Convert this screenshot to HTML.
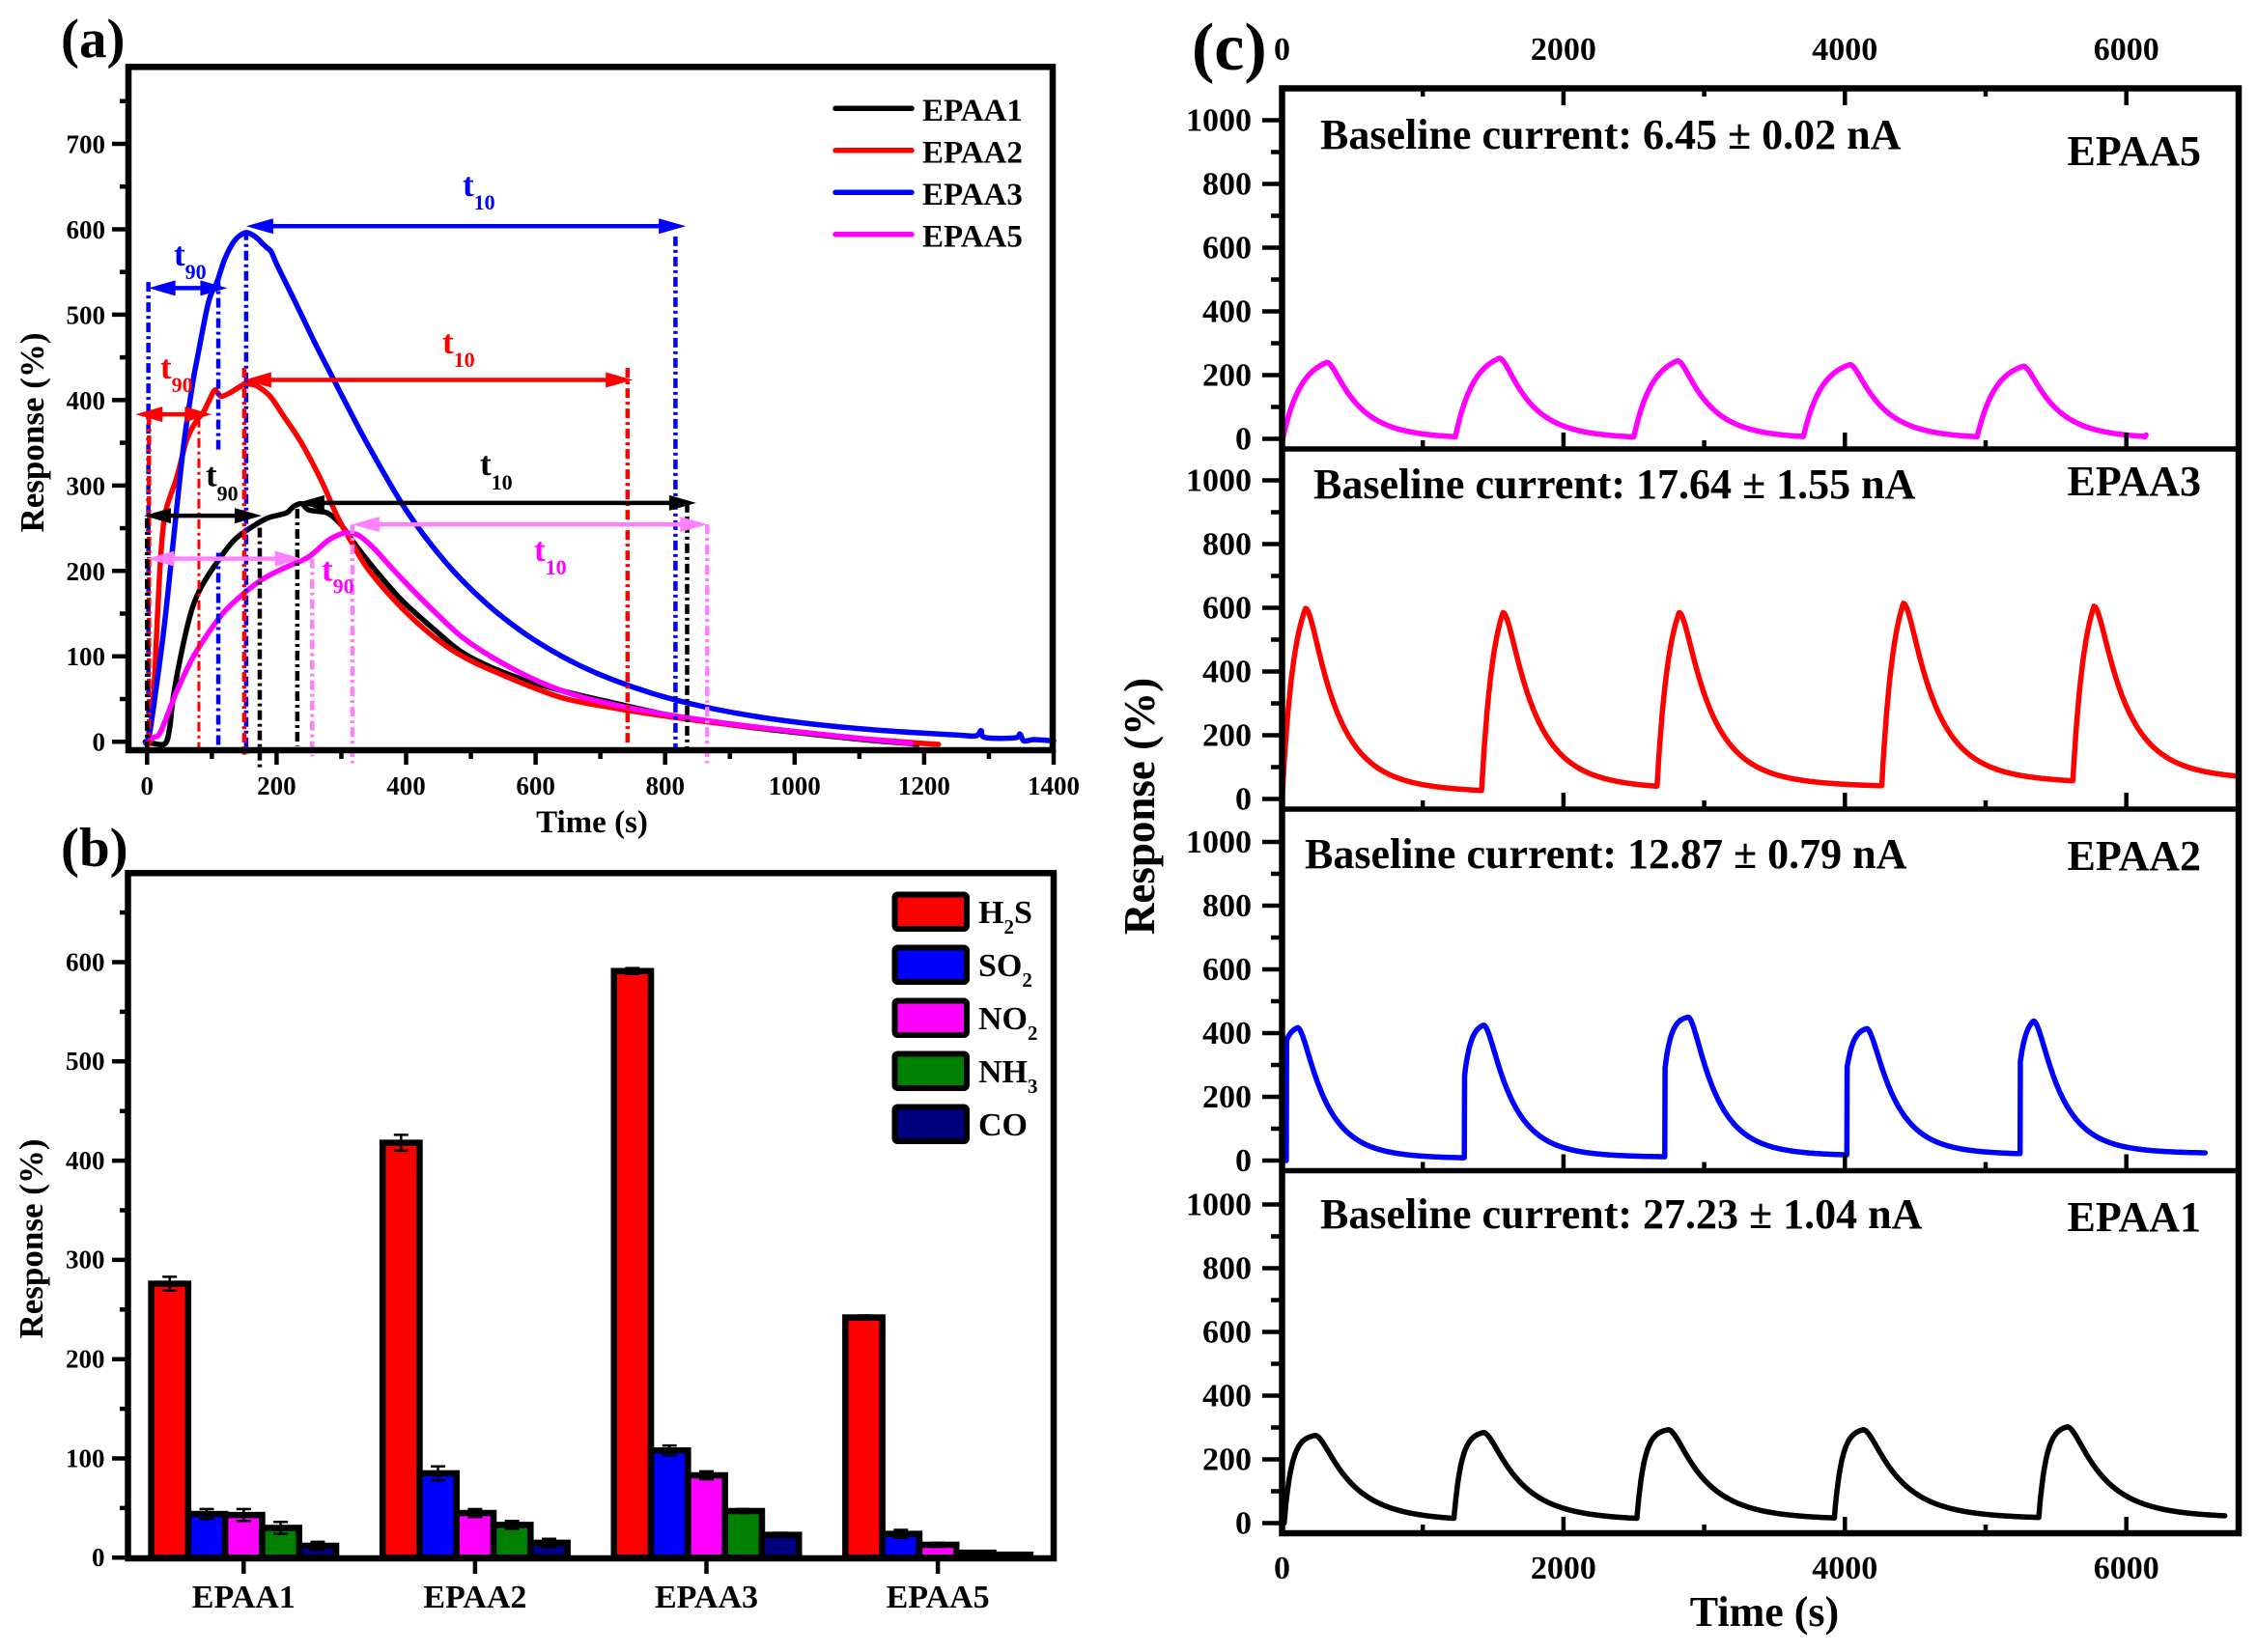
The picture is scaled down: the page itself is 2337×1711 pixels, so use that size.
<!DOCTYPE html>
<html><head><meta charset="utf-8">
<style>
html,body{margin:0;padding:0;background:#fff;}
svg{display:block;}
text{font-family:"Liberation Serif","Times New Roman",serif;font-weight:bold;fill:#000;}
</style></head>
<body>
<svg id="s" xmlns="http://www.w3.org/2000/svg" width="2337" height="1711" viewBox="0 0 2337 1711">
<rect width="2337" height="1711" fill="#fff"/>
<g id="gB"></g>
<g id="gCA" fill="none" stroke-linejoin="round" stroke-linecap="round"></g>
<g id="gAnn"></g>
<g id="gCC" fill="none" stroke-linejoin="round" stroke-linecap="round"></g>
<g id="gF" stroke="#000" fill="none"></g>

<!-- Panel a legend lines -->
<g stroke-width="5.5" stroke-linecap="round">
<line x1="865" y1="112.3" x2="944" y2="112.3" stroke="#000"/>
<line x1="865" y1="155.8" x2="944" y2="155.8" stroke="#ff0000"/>
<line x1="865" y1="199.3" x2="944" y2="199.3" stroke="#0000ff"/>
<line x1="865" y1="242.8" x2="944" y2="242.8" stroke="#ff00ff"/>
</g>
<!-- Panel b legend boxes -->
<g stroke="#000" stroke-width="6">
<rect x="926.5" y="926.5" width="74.5" height="35.5" rx="3" fill="#ff0000"/>
<rect x="926.5" y="981.5" width="74.5" height="35.5" rx="3" fill="#0000ff"/>
<rect x="926.5" y="1036.5" width="74.5" height="35.5" rx="3" fill="#ff00ff"/>
<rect x="926.5" y="1091.5" width="74.5" height="35.5" rx="3" fill="#008000"/>
<rect x="926.5" y="1146.5" width="74.5" height="35.5" rx="3" fill="#000080"/>
</g>

<!-- ===== Panel (a) text ===== -->
<text x="63" y="59" font-size="57">(a)</text>
<g font-size="33">
<text x="955" y="125">EPAA1</text>
<text x="955" y="168.5">EPAA2</text>
<text x="955" y="212">EPAA3</text>
<text x="955" y="255.5">EPAA5</text>
</g>
<g font-size="27" text-anchor="end">
<text x="109" y="777.7">0</text>
<text x="109" y="689.2">100</text>
<text x="109" y="600.8">200</text>
<text x="109" y="512.3">300</text>
<text x="109" y="423.9">400</text>
<text x="109" y="335.4">500</text>
<text x="109" y="247">600</text>
<text x="109" y="158.5">700</text>
</g>
<g font-size="27" text-anchor="middle">
<text x="152.3" y="823">0</text>
<text x="286.4" y="823">200</text>
<text x="420.5" y="823">400</text>
<text x="554.6" y="823">600</text>
<text x="688.7" y="823">800</text>
<text x="822.8" y="823">1000</text>
<text x="956.9" y="823">1200</text>
<text x="1091" y="823">1400</text>
</g>
<text x="613" y="862" font-size="33" text-anchor="middle">Time (s)</text>
<text transform="translate(45,448) rotate(-90)" font-size="35" text-anchor="middle">Response (%)</text>
<!-- t labels -->
<text x="479" y="203" font-size="35" style="fill:#0000ff">t<tspan font-size="22" dy="14">10</tspan></text>
<text x="458" y="366" font-size="35" style="fill:#ff0000">t<tspan font-size="22" dy="14">10</tspan></text>
<text x="497" y="492" font-size="35" style="fill:#000">t<tspan font-size="22" dy="15">10</tspan></text>
<text x="553" y="581" font-size="35" style="fill:#ff00ff">t<tspan font-size="22" dy="14">10</tspan></text>
<text x="180" y="275" font-size="35" style="fill:#0000ff">t<tspan font-size="22" dy="14">90</tspan></text>
<text x="166" y="392" font-size="35" style="fill:#ff0000">t<tspan font-size="22" dy="14">90</tspan></text>
<text x="213" y="503.5" font-size="35" style="fill:#000">t<tspan font-size="22" dy="15">90</tspan></text>
<text x="333" y="601.5" font-size="35" style="fill:#ff00ff">t<tspan font-size="22" dy="13">90</tspan></text>

<!-- ===== Panel (b) text ===== -->
<text x="63" y="897" font-size="57">(b)</text>
<g font-size="27" text-anchor="end">
<text x="108.5" y="1622">0</text>
<text x="108.5" y="1519.3">100</text>
<text x="108.5" y="1416.5">200</text>
<text x="108.5" y="1313.7">300</text>
<text x="108.5" y="1210.9">400</text>
<text x="108.5" y="1108.1">500</text>
<text x="108.5" y="1005.3">600</text>
</g>
<g font-size="34" text-anchor="middle">
<text x="252.3" y="1665">EPAA1</text>
<text x="491.9" y="1665">EPAA2</text>
<text x="731.5" y="1665">EPAA3</text>
<text x="971.1" y="1665">EPAA5</text>
</g>
<text transform="translate(44,1283) rotate(-90)" font-size="35" text-anchor="middle">Response (%)</text>
<g font-size="34">
<text x="1013" y="956">H<tspan font-size="21" dy="11">2</tspan><tspan dy="-11">S</tspan></text>
<text x="1013" y="1011">SO<tspan font-size="21" dy="11">2</tspan></text>
<text x="1013" y="1066">NO<tspan font-size="21" dy="11">2</tspan></text>
<text x="1013" y="1121">NH<tspan font-size="21" dy="11">3</tspan></text>
<text x="1013" y="1176">CO</text>
</g>

<!-- ===== Panel (c) text ===== -->
<text x="1234" y="72" font-size="70">(c)</text>
<g font-size="34" text-anchor="middle">
<text x="1327.5" y="62">0</text>
<text x="1618.9" y="62">2000</text>
<text x="1910.3" y="62">4000</text>
<text x="2201.7" y="62">6000</text>
<text x="1327.5" y="1635">0</text>
<text x="1618.9" y="1635">2000</text>
<text x="1910.3" y="1635">4000</text>
<text x="2201.7" y="1635">6000</text>
</g>
<g font-size="34" text-anchor="end">
<text x="1296" y="465.5">0</text><text x="1296" y="399.5">200</text><text x="1296" y="333.5">400</text><text x="1296" y="267.5">600</text><text x="1296" y="201.5">800</text><text x="1296" y="135.5">1000</text>
<text x="1296" y="838.5">0</text><text x="1296" y="772.5">200</text><text x="1296" y="706.5">400</text><text x="1296" y="640.5">600</text><text x="1296" y="574.5">800</text><text x="1296" y="508.5">1000</text>
<text x="1296" y="1213">0</text><text x="1296" y="1147">200</text><text x="1296" y="1081">400</text><text x="1296" y="1015">600</text><text x="1296" y="949">800</text><text x="1296" y="883">1000</text>
<text x="1296" y="1588.5">0</text><text x="1296" y="1522.5">200</text><text x="1296" y="1456.5">400</text><text x="1296" y="1390.5">600</text><text x="1296" y="1324.5">800</text><text x="1296" y="1258.5">1000</text>
</g>
<text x="1827" y="1684" font-size="44" text-anchor="middle">Time (s)</text>
<text transform="translate(1195,835) rotate(-90)" font-size="45" text-anchor="middle">Response (%)</text>
<g font-size="44">
<text x="1367" y="154">Baseline current: 6.45 ± 0.02 nA</text>
<text x="1360" y="516">Baseline current: 17.64 ± 1.55 nA</text>
<text x="1351" y="899">Baseline current: 12.87 ± 0.79 nA</text>
<text x="1367" y="1272">Baseline current: 27.23 ± 1.04 nA</text>
</g>
<g font-size="44" text-anchor="end">
<text x="2279" y="171">EPAA5</text>
<text x="2279" y="513">EPAA3</text>
<text x="2279" y="901">EPAA2</text>
<text x="2279" y="1275">EPAA1</text>
</g>
</svg>
<script>
(function(){
var NS='http://www.w3.org/2000/svg';
function E(tag,a,p){var e=document.createElementNS(NS,tag);for(var k in a)e.setAttribute(k,a[k]);p.appendChild(e);return e;}
var gB=document.getElementById('gB'),gCA=document.getElementById('gCA'),gAnn=document.getElementById('gAnn'),gCC=document.getElementById('gCC'),gF=document.getElementById('gF');
function L(p,x1,y1,x2,y2,c,w,extra){var a={x1:x1,y1:y1,x2:x2,y2:y2,stroke:c,'stroke-width':w};if(extra)for(var k in extra)a[k]=extra[k];return E('line',a,p);}

/* ---------- Panel (a) ---------- */
var XA=function(t){return 152.3+0.6705*t;}, YA=function(v){return 772.7-0.890*v;}, YN=function(v){return 768.2-0.8846*v;};
function cr(pts){
  var d='M'+pts[0][0].toFixed(1)+','+pts[0][1].toFixed(1);
  for(var i=0;i<pts.length-1;i++){
    var p0=pts[i-1]||pts[i],p1=pts[i],p2=pts[i+1],p3=pts[i+2]||p2;
    var c1x=p1[0]+(p2[0]-p0[0])/6,c1y=p1[1]+(p2[1]-p0[1])/6,c2x=p2[0]-(p3[0]-p1[0])/6,c2y=p2[1]-(p3[1]-p1[1])/6;
    d+='C'+c1x.toFixed(1)+','+c1y.toFixed(1)+' '+c2x.toFixed(1)+','+c2y.toFixed(1)+' '+p2[0].toFixed(1)+','+p2[1].toFixed(1);
  }
  return d;
}
function px(arr){return arr.map(function(p){return [XA(p[0]),YA(p[1])];});}
var black=[[-3,5],[0,5],[10,3],[28,3],[35,22],[41,60],[56,119],[70,161],[85,187],[110,216],[135,240],[160,254],[185,265],[214,271],[222,276],[229,280],[239,282],[249,275],[265,273],[279,271],[299,258],[319,237],[349,208],[393,170],[443,136],[493,106],[567,81],[642,64],[716,51],[800,37],[900,25],[1000,16],[1100,8],[1190,2]];
var red=[[0,5],[3,9],[10,60],[16,150],[21,220],[28,271],[46,313],[61,356],[75,377],[88,390],[103,413],[108,412],[115,407],[130,412],[150,421],[160,421],[170,419],[190,407],[210,385],[239,352],[269,309],[294,267],[319,233],[344,203],[393,161],[443,127],[493,102],[567,77],[642,56],[716,45],[800,35],[900,25],[1000,17],[1100,9],[1200,3],[1222,2]];
var blue=[[-2,3],[0,5],[5,20],[11,51],[26,136],[41,242],[56,347],[70,420],[78,453],[95,517],[108,540],[120,567],[135,588],[150,597],[160,596],[170,591],[178,585],[185,580],[192,575],[200,561],[230,515],[260,468],[294,418]];
(function(){var ts=[340,400,460,520,580,640,700,780,860,950,1050,1150,1250,1280];
 ts.forEach(function(t){var v=400*Math.exp(-(t-294)/230)+26*Math.exp(-(t-294)/700);blue.push([t,v]);});
 blue.push([1288,18],[1294,10],[1340,9.5],[1348,14],[1354,6],[1370,7.5],[1400,6]);})();
var mag=[[0,3],[3,5],[10,10],[21,17],[46,64],[70,102],[95,132],[120,157],[150,178],[180,195],[214,208],[249,220],[279,239],[300,247],[309,248],[320,247],[329,244],[349,231],[393,195],[443,157],[493,123],[567,89],[642,64],[716,49],[800,37],[900,26],[1000,17],[1100,9],[1180,3]];
[[black,'#000'],[red,'#ff0000'],[blue,'#0000ff'],[mag,'#ff00ff']].forEach(function(c){E('path',{d:cr(px(c[0])),stroke:c[1],'stroke-width':5.5},gCA);});

var dash='10 4 3 4';
function vl(t,v1,v2,c,w){L(gAnn,XA(t),YA(v1),XA(t),YA(v2),c,w||4.5,{'stroke-dasharray':dash});}
function head(x,y,dir,c){var Lh=28,W=8;E('polygon',{points:x+','+y+' '+(x-dir*Lh)+','+(y-W)+' '+(x-dir*Lh)+','+(y+W),fill:c},gAnn);}
function arr(t1,t2,v,c){var x1=XA(t1),x2=XA(t2),y=YA(v);L(gAnn,x1+10,y,x2-10,y,c,4.5);head(x1,y,-1,c);head(x2,y,1,c);}
var B='#0000ff',R='#ff0000',K='#000',P='#ff80ff';
vl(2,540,-3,B);arr(2,124,533,B);vl(110,545,345,B);vl(110,225,-5,B);vl(153,600,-12,B);arr(153,832,605,B);vl(816,593,-3,B);
vl(3,385,0,R);arr(-18,100,386,R);vl(80,382,-5,R,3);vl(150,440,-10,R);arr(150,750,426,R);vl(742,440,0,R);
vl(0,265,-12,K);arr(-5,177,268,K);vl(174,254,-25,K);vl(232,276,0,K);arr(232,848,283,K);vl(834,283,-5,K);
arr(0,239,218,P);vl(255,218,-12,P);vl(317,258,-20,P);arr(317,865,258,P);vl(865,258,-20,P);

/* frame a + ticks */
E('rect',{x:133,y:69.3,width:957,height:707.7,'stroke-width':6.5},gF);
var v,t;
for(v=0;v<=700;v+=100)L(gF,116,YN(v),133,YN(v),'#000',4.5);
for(v=50;v<=750;v+=100)L(gF,124,YN(v),133,YN(v),'#000',4.5);
for(t=0;t<=1400;t+=200)L(gF,XA(t),777,XA(t),792,'#000',4.5);
for(t=100;t<=1300;t+=200)L(gF,XA(t),777,XA(t),786,'#000',4.5);

/* ---------- Panel (b) ---------- */
var YB=function(v){return 1613.3-1.028*v;};
var vals=[[[276,7],[44,5],[43,6],[30,6],[12,4]],[[418,8],[85,7],[45,4],[33,4],[15,4]],[[591,3],[108,5],[83,4],[47,2],[23,2]],[[242,2],[24,4],[13,2],[5,1],[3,1]]];
var cols=['#ff0000','#0000ff','#ff00ff','#008000','#000080'];
var bw=38.3;
for(var g=0;g<4;g++){
  var C=132.5+239.6*(g+0.5);
  for(var j=0;j<5;j++){
    var x=C-2.5*bw+j*bw,val=vals[g][j][0],y=YB(val);
    E('rect',{x:x,y:y,width:bw,height:YB(0)-y,fill:cols[j],stroke:'#000','stroke-width':6.5},gB);
  }
  for(j=0;j<5;j++){
    var x2=C-2.5*bw+j*bw+bw/2,val2=vals[g][j][0],e2=vals[g][j][1];
    L(gB,x2,YB(val2+e2),x2,YB(val2-e2),'#000',2.5);
    L(gB,x2-7.5,YB(val2+e2),x2+7.5,YB(val2+e2),'#000',2.5);
    L(gB,x2-7.5,YB(val2-e2),x2+7.5,YB(val2-e2),'#000',2.5);
  }
  L(gF,C,1614,C,1630,'#000',4.5);
}
E('rect',{x:132.5,y:904.3,width:958.5,height:709.7,'stroke-width':6.5},gF);
for(v=0;v<=600;v+=100)L(gF,116,YB(v),132.5,YB(v),'#000',4.5);
for(v=50;v<=650;v+=100)L(gF,124,YB(v),132.5,YB(v),'#000',4.5);

/* ---------- Panel (c) ---------- */
var XC=function(t){return 1327.5+0.1457*t;};
var Bk=[465,838,1212.5,1588],Zk=[454.5,827.5,1202,1577.5];
function series(cfg){
  var pts=[],vv=0;
  cfg.p.forEach(function(p,i){
    var t0=p[0],tp=p[1],Pk=p[2],jf=p[3]||0;
    var next=(i+1<cfg.p.length)?cfg.p[i+1][0]:cfg.end;
    var vs=(i==0)?0:vv;
    var T=tp-t0,nr=1-Math.exp(-T/cfg.tr);
    for(var tt=t0;tt<tp;tt+=2){var dt=tt-t0;var r=(dt==0)?0:(jf+(1-jf)*(1-Math.exp(-dt/cfg.tr))/nr);vv=vs+(Pk-vs)*r;pts.push([tt,vv]);}
    for(tt=tp;tt<=next;tt+=4){var d=tt-tp;var dd=d-cfg.s*(1-Math.exp(-d/cfg.s));var gg=cfg.a*Math.exp(-dd/cfg.t1)+(1-cfg.a)*Math.exp(-dd/cfg.t2);var b=cfg.base*tt;vv=b+(Pk-b)*gg;pts.push([tt,vv]);}
  });
  return pts;
}
function pathC(pts,k){return 'M'+pts.map(function(p){return XC(p[0]).toFixed(1)+','+(Zk[k]-0.33*p[1]).toFixed(1);}).join('L');}
var pink=series({p:[[5,318,240],[1232,1544,253],[2500,2810,245],[3705,4035,233],[4940,5268,228]],end:6120,tr:130,s:40,a:0.85,t1:200,t2:400,base:0});
pink.push([6132,6],[6140,12]);
var redC=series({p:[[0,167,598],[1418,1570,585],[2665,2822,585],[4262,4416,614],[5620,5770,605]],end:6800,tr:85,s:40,a:0.85,t1:200,t2:700,base:0.007});
var blueC=series({p:[[30,110,417,0.9],[1295,1432,425,0.6],[2720,2885,450,0.62],[4014,4155,414,0.68],[5245,5340,438,0.68]],end:6560,tr:45,s:40,a:0.9,t1:180,t2:500,base:0.003});
var blackC=series({p:[[15,235,275],[1222,1431,284],[2522,2745,293],[3925,4130,293],[5378,5580,302]],end:6703,tr:52,s:50,a:0.85,t1:230,t2:600,base:0.002});
E('path',{d:pathC(pink,0),stroke:'#ff00ff','stroke-width':5.5},gCC);
E('path',{d:pathC(redC,1),stroke:'#ff0000','stroke-width':5.5},gCC);
E('path',{d:pathC(blueC,2),stroke:'#0000ff','stroke-width':5.5},gCC);
E('path',{d:pathC(blackC,3),stroke:'#000','stroke-width':5.5},gCC);

E('rect',{x:1327.5,y:91.5,width:990.5,height:1496.5,'stroke-width':6.5},gF);
for(var k=0;k<3;k++)L(gF,1327.5,Bk[k],2318,Bk[k],'#000',5.5);
for(k=0;k<4;k++){
  for(v=0;v<=1000;v+=200)L(gF,1307,Zk[k]-0.33*v,1327.5,Zk[k]-0.33*v,'#000',4.5);
  for(v=100;v<=900;v+=200)L(gF,1316,Zk[k]-0.33*v,1327.5,Zk[k]-0.33*v,'#000',4.5);
  for(t=2000;t<=6000;t+=2000)L(gF,XC(t),Bk[k]-17,XC(t),Bk[k],'#000',4.5);
  for(t=1000;t<=5000;t+=2000)L(gF,XC(t),Bk[k]-9,XC(t),Bk[k],'#000',4.5);
}
for(t=2000;t<=6000;t+=2000)L(gF,XC(t),91.5,XC(t),109,'#000',4.5);
for(t=1000;t<=5000;t+=2000)L(gF,XC(t),91.5,XC(t),100,'#000',4.5);
})();
</script>
</body></html>
